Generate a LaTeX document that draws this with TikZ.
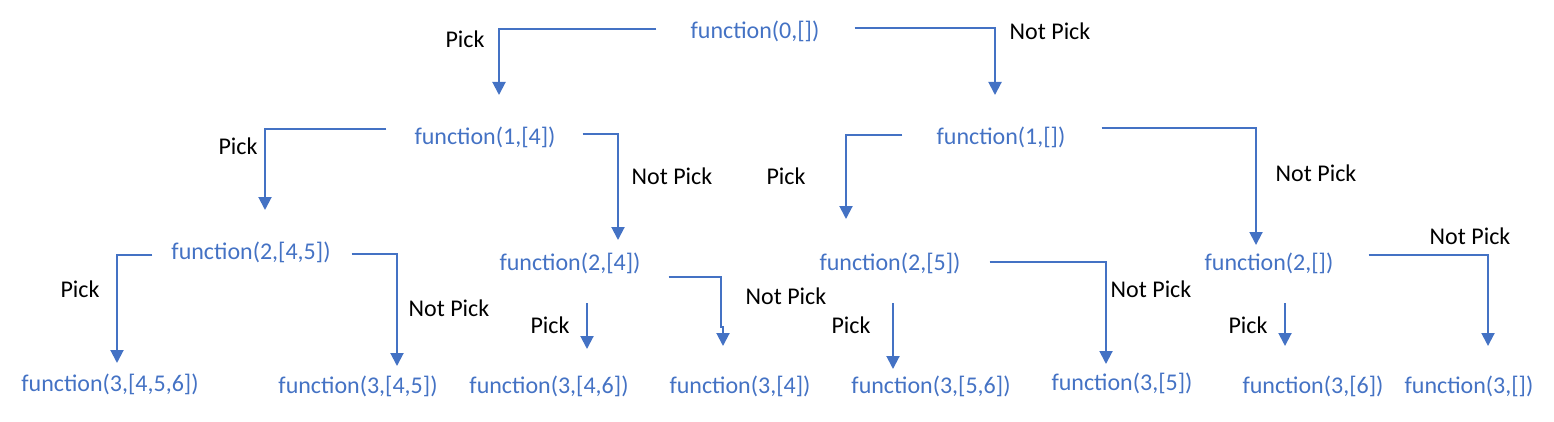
\documentclass[tikz,border=0pt]{standalone}
\usepackage{fontspec}
\setmainfont{Carlito}
\usetikzlibrary{arrows.meta}
\definecolor{callblue}{HTML}{4472C4}
\tikzset{
  call/.style={text=callblue, inner sep=0pt},
  choice/.style={text=black, inner sep=0pt},
  link/.style={draw=callblue, line width=2pt, -{Triangle[length=13pt,width=13pt]}}
}
\begin{document}
\begin{tikzpicture}[x=1pt, y=-1pt, font=\fontsize{24}{28}\selectfont]
    \useasboundingbox (0,0) rectangle (1554,422);
    \node[call] (f0) at (755,31) {function(0,[])};
    \node[call] (f1a) at (485,137) {function(1,[4])};
    \node[call] (f1b) at (1001,137) {function(1,[])};
    \node[call] (f2a) at (251,252) {function(2,[4,5])};
    \node[call] (f2b) at (570,263) {function(2,[4])};
    \node[call] (f2c) at (890,263) {function(2,[5])};
    \node[call] (f2d) at (1269,263) {function(2,[])};
    \node[call] (f3a) at (110,384) {function(3,[4,5,6])};
    \node[call] (f3b) at (358,386) {function(3,[4,5])};
    \node[call] (f3c) at (549,386) {function(3,[4,6])};
    \node[call] (f3d) at (740,386) {function(3,[4])};
    \node[call] (f3e) at (931,386) {function(3,[5,6])};
    \node[call] (f3f) at (1122,383) {function(3,[5])};
    \node[call] (f3g) at (1313,386) {function(3,[6])};
    \node[call] (f3h) at (1469,386) {function(3,[])};

    \node[choice] (p0) at (465,39) {Pick};
    \node[choice] (n0) at (1050,31) {Not Pick};
    \node[choice] (p1a) at (238,146) {Pick};
    \node[choice] (n1a) at (672,176) {Not Pick};
    \node[choice] (p1b) at (786,176) {Pick};
    \node[choice] (n1b) at (1316,173) {Not Pick};
    \node[choice] (p2a) at (80,289) {Pick};
    \node[choice] (n2a) at (449,308) {Not Pick};
    \node[choice] (p2b) at (550,325) {Pick};
    \node[choice] (n2b) at (786,296) {Not Pick};
    \node[choice] (p2c) at (851,325) {Pick};
    \node[choice] (n2c) at (1151,289) {Not Pick};
    \node[choice] (p2d) at (1248,325) {Pick};
    \node[choice] (n2d) at (1470,236) {Not Pick};

    \draw[link] ([xshift=-34pt,yshift=2pt]f0.west) -| ([xshift=14pt,yshift=42pt]f1a.center);
    \draw[link] ([xshift=35pt,yshift=3pt]f0.east) -| ([xshift=-6pt,yshift=42pt]f1b.center);
    \draw[link] ([xshift=-28pt,yshift=8pt]f1a.west) -| ([xshift=14pt,yshift=42pt]f2a.center);
    \draw[link] ([xshift=27pt,yshift=3pt]f1a.east) -| ([xshift=48pt,yshift=23pt]f2b.center);
    \draw[link] ([xshift=-34pt,yshift=2pt]f1b.west) -| ([xshift=-44pt,yshift=44pt]f2c.center);
    \draw[link] ([xshift=36pt,yshift=9pt]f1b.east) -| ([xshift=-13pt,yshift=18pt]f2d.center);
    \draw[link] ([xshift=-19pt,yshift=-3pt]f2a.west) -| ([xshift=7pt,yshift=21pt]f3a.center);
    \draw[link] ([xshift=21pt,yshift=-2pt]f2a.east) -| ([xshift=39pt,yshift=20pt]f3b.center);
    \draw[link] ([xshift=17pt,yshift=-40pt]f2b.center) -- ([xshift=38pt,yshift=37pt]f3c.center);
    \draw[link] ([xshift=28pt,yshift=-14pt]f2b.east) -| ([xshift=-19pt,yshift=59pt]f3d.center)
      -| ([xshift=-17pt,yshift=40pt]f3d.center);
    \draw[link] ([xshift=3pt,yshift=-40pt]f2c.center) -- ([xshift=-38pt,yshift=17pt]f3e.center);
    \draw[link] ([xshift=29pt,yshift=1pt]f2c.east) -| ([xshift=-16pt,yshift=19pt]f3f.center);
    \draw[link] ([xshift=16pt,yshift=-40pt]f2d.center) -- ([xshift=-28pt,yshift=40pt]f3g.center);
    \draw[link] ([xshift=35pt,yshift=8pt]f2d.east) -| ([xshift=19pt,yshift=40pt]f3h.center);
\end{tikzpicture}
\end{document}
